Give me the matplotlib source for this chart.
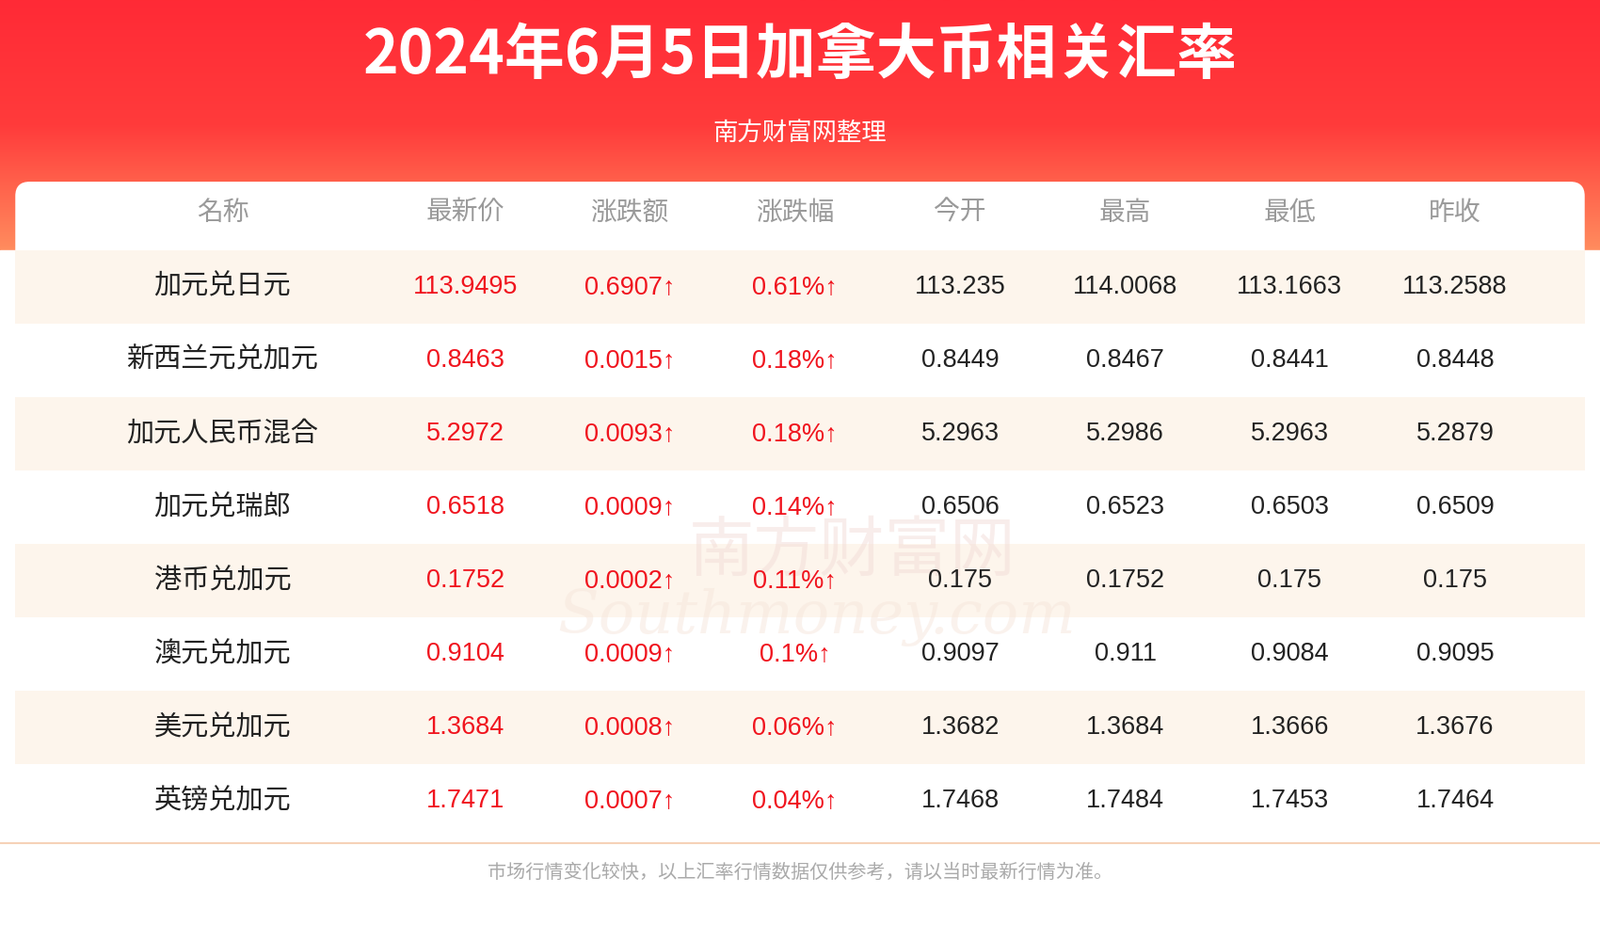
import numpy as np
import matplotlib.pyplot as plt
from matplotlib import font_manager
from matplotlib.patches import FancyBboxPatch, Rectangle
from matplotlib.colors import LinearSegmentedColormap

cjk = [f.name for f in font_manager.fontManager.ttflist if 'CJK' in f.name]
plt.rcParams['font.family'] = 'sans-serif'
plt.rcParams['font.sans-serif'] = ['Noto Sans CJK SC', 'Noto Sans CJK JP'] + cjk + ['DejaVu Sans']
NUMFONT = ['Liberation Sans', 'DejaVu Sans']

title = '2024年6月5日加拿大币相关汇率'
subtitle = '南方财富网整理'
headers = ['名称', '最新价', '涨跌额', '涨跌幅', '今开', '最高', '最低', '昨收']
names = ['加元兑日元', '新西兰元兑加元', '加元人民币混合', '加元兑瑞郎',
         '港币兑加元', '澳元兑加元', '美元兑加元', '英镑兑加元']
latest = ['113.9495', '0.8463', '5.2972', '0.6518', '0.1752', '0.9104', '1.3684', '1.7471']
change = ['0.6907↑', '0.0015↑', '0.0093↑', '0.0009↑', '0.0002↑', '0.0009↑', '0.0008↑', '0.0007↑']
pct = ['0.61%↑', '0.18%↑', '0.18%↑', '0.14%↑', '0.11%↑', '0.1%↑', '0.06%↑', '0.04%↑']
open_ = ['113.235', '0.8449', '5.2963', '0.6506', '0.175', '0.9097', '1.3682', '1.7468']
high = ['114.0068', '0.8467', '5.2986', '0.6523', '0.1752', '0.911', '1.3684', '1.7484']
low = ['113.1663', '0.8441', '5.2963', '0.6503', '0.175', '0.9084', '1.3666', '1.7453']
prev = ['113.2588', '0.8448', '5.2879', '0.6509', '0.175', '0.9095', '1.3676', '1.7464']
footer = '市场行情变化较快，以上汇率行情数据仅供参考，请以当时最新行情为准。'

W, H = 1568, 922
fig = plt.figure(figsize=(17, 10), dpi=100)
ax = fig.add_axes([0, 0, 1, 1])
ax.set_xlim(0, W)
ax.set_ylim(H, 0)
ax.axis('off')

# header gradient
cmap = LinearSegmentedColormap.from_list('hdr', ['#ff2a36', '#ff3b3b', '#ff8c5e'])
grad = np.linspace(0, 1, 256).reshape(-1, 1)
ax.imshow(grad, cmap=cmap, extent=[0, W, 245, 0], aspect='auto', zorder=0)
ax.add_patch(Rectangle((0, 245), W, H - 245, color='white', zorder=0))

# card
ax.add_patch(FancyBboxPatch((15, 178), 1538, 700, boxstyle='round,pad=0,rounding_size=14',
                            fc='white', ec='none', zorder=1))

ax.text(W / 2, 55, title, ha='center', va='center', fontsize=46, fontweight='bold',
        color='white', zorder=3)
ax.text(W / 2, 130, subtitle, ha='center', va='center', fontsize=19, color='white', zorder=3)

cols = [218, 456, 617, 779, 941, 1103, 1264, 1426]
for x, h in zip(cols, headers):
    ax.text(x, 208, h, ha='center', va='center', fontsize=20, color='#9a9a9a', zorder=3)

# watermark
ax.text(835, 540, '南方财富网', ha='center', va='center', fontsize=50, color='#f3dcd8',
        alpha=0.5, zorder=2)
ax.text(800, 605, 'Southmoney.com', ha='center', va='center', fontsize=46, color='#f6e6dc',
        style='italic', family='DejaVu Serif', alpha=0.5, zorder=2)

red = '#f0141e'
dark = '#222222'
for i in range(len(names)):
    y = 281 + 72 * i
    if i % 2 == 0:
        ax.add_patch(Rectangle((15, y - 36), 1538, 72, fc='#fdf5ec', ec='none', zorder=1.5))
    ax.text(cols[0], y, names[i], ha='center', va='center', fontsize=21, color=dark, zorder=3)
    row = [latest[i], change[i], pct[i], open_[i], high[i], low[i], prev[i]]
    colors = [red, red, red, dark, dark, dark, dark]
    for x, v, c in zip(cols[1:], row, colors):
        ax.text(x, y, v, ha='center', va='center', fontsize=19.5, color=c, zorder=3,
                family=NUMFONT)

ax.plot([0, W], [826, 826], color='#f6d2b8', lw=1.5, zorder=3)
ax.text(W / 2, 855, footer, ha='center', va='center', fontsize=14.5, color='#aaaaaa', zorder=3)

fig.savefig('out.png', dpi=100)
